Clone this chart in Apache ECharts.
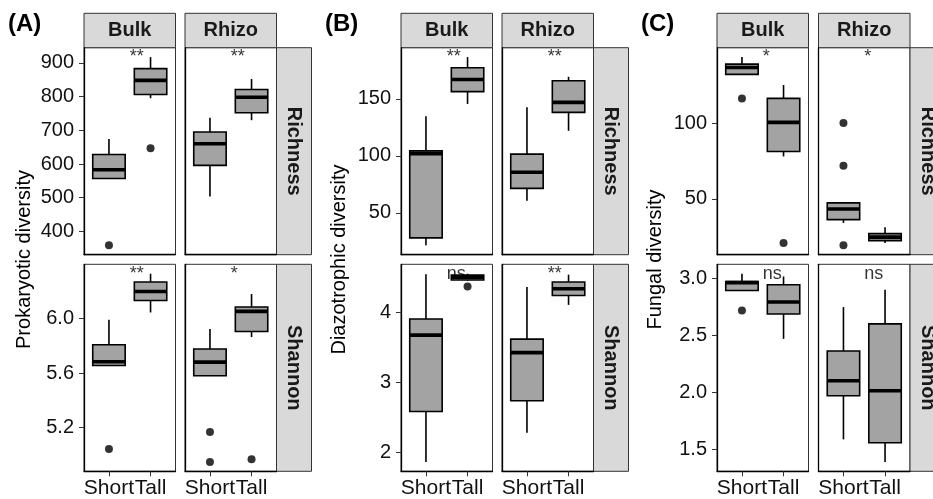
<!DOCTYPE html>
<html><head><meta charset="utf-8">
<script src="https://cdn.jsdelivr.net/npm/echarts@6/dist/echarts.min.js"></script>
<style>html,body{margin:0;padding:0;background:#fff}#c{width:933px;height:499px}</style>
</head><body><div id="c"></div>
<script>
// ---------- data ----------
const groups = ['Short', 'Tall'];
const sites = ['Bulk', 'Rhizo'];
const metrics = ['Richness', 'Shannon'];
const panelLetters = ['(A)', '(B)', '(C)'];
const yTitles = ['Prokaryotic diversity', 'Diazotrophic diversity', 'Fungal diversity'];

// boxes: [lower whisker, Q1, median, Q3, upper whisker] for Short, Tall
const prokRichBulk  = [[557, 557, 583, 628, 674], [795, 806, 848, 883, 917]];
const prokRichRhizo = [[504, 596, 660, 695, 737], [730, 752, 798, 821, 852]];
const prokShanBulk  = [[5.656, 5.656, 5.683, 5.809, 5.993], [6.046, 6.134, 6.2, 6.27, 6.331]];
const prokShanRhizo = [[5.58, 5.58, 5.681, 5.777, 5.924], [5.865, 5.906, 6.054, 6.086, 6.182]];
const diazRichBulk  = [[21.5, 28, 102, 104.4, 134.7], [145.6, 156.4, 167, 177.3, 186.7]];
const diazRichRhizo = [[60.5, 71.5, 85.6, 101.5, 142.6], [122, 138.2, 147, 165.9, 169.4]];
const diazShanBulk  = [[1.865, 2.584, 3.673, 3.904, 4.541], [4.45, 4.46, 4.50, 4.53, 4.55]];
const diazShanRhizo = [[2.282, 2.738, 3.424, 3.616, 4.36], [4.105, 4.239, 4.335, 4.432, 4.537]];
const fungRichBulk  = [[132, 132, 136.6, 138.8, 143.4], [78, 81.3, 100.4, 116.2, 125]];
const fungRichRhizo = [[34.2, 36.4, 43.4, 47.4, 47.4], [21, 22.6, 24.9, 27.2, 31.3]];
const fungShanBulk  = [[2.891, 2.891, 2.96, 2.97, 3.038], [2.468, 2.686, 2.79, 2.941, 3.014]];
const fungShanRhizo = [[1.588, 1.97, 2.101, 2.362, 2.746], [1.391, 1.558, 2.014, 2.599, 2.897]];

// outliers: [group index (0 = Short, 1 = Tall), value]
const prokRichBulkOut  = [[0, 359], [1, 647]];
const prokRichRhizoOut = [];
const prokShanBulkOut  = [[0, 5.041]];
const prokShanRhizoOut = [[0, 5.166], [0, 4.947], [1, 4.967]];
const diazRichBulkOut  = [];
const diazRichRhizoOut = [];
const diazShanBulkOut  = [[1, 4.368]];
const diazShanRhizoOut = [];
const fungRichBulkOut  = [[0, 116.2], [1, 21]];
const fungRichRhizoOut = [[0, 100], [0, 71.9], [0, 19.5]];
const fungShanBulkOut  = [[0, 2.716]];
const fungShanRhizoOut = [];

// significance labels [Bulk, Rhizo] per metric row
const prokSignif = [['**', '**'], ['**', '*']];
const diazSignif = [['**', '**'], ['ns', '**']];
const fungSignif = [['*', '*'], ['ns', 'ns']];

// y tick values
const prokRichTicks = [400, 500, 600, 700, 800, 900];
const prokShanTicks = [5.2, 5.6, 6.0];
const diazRichTicks = [50, 100, 150];
const diazShanTicks = [2, 3, 4];
const fungRichTicks = [50, 100];
const fungShanTicks = [1.5, 2.0, 2.5, 3.0];

// ---------- assembly ----------
const boxes = [
  [[prokRichBulk, prokRichRhizo], [prokShanBulk, prokShanRhizo]],
  [[diazRichBulk, diazRichRhizo], [diazShanBulk, diazShanRhizo]],
  [[fungRichBulk, fungRichRhizo], [fungShanBulk, fungShanRhizo]]
];
const outs = [
  [[prokRichBulkOut, prokRichRhizoOut], [prokShanBulkOut, prokShanRhizoOut]],
  [[diazRichBulkOut, diazRichRhizoOut], [diazShanBulkOut, diazShanRhizoOut]],
  [[fungRichBulkOut, fungRichRhizoOut], [fungShanBulkOut, fungShanRhizoOut]]
];
const signif = [prokSignif, diazSignif, fungSignif];
const ticks = [[prokRichTicks, prokShanTicks], [diazRichTicks, diazShanTicks], [fungRichTicks, fungShanTicks]];
const tickDecimals = [[0, 1], [0, 0], [0, 1]];

// layout
const FONT = "'Liberation Sans', Arial, Helvetica, sans-serif";
const panelX = [[84, 185], [401, 502], [717, 818.5]];
const panelW = 91.5;
const stripW = 35;
const rowY = [47.7, 264.3];
const rowH = 207;
const stripTop = 13.3, stripH = 34.4;
const titleX = [24.5, 339.5, 655.7];

const grids = [], xAxes = [], yAxes = [], series = [], graphics = [];

function rowRange(p, m) {
  let lo = Infinity, hi = -Infinity;
  for (let s = 0; s < 2; s++) {
    boxes[p][m][s].forEach(b => b.forEach(v => { lo = Math.min(lo, v); hi = Math.max(hi, v); }));
    outs[p][m][s].forEach(o => { lo = Math.min(lo, o[1]); hi = Math.max(hi, o[1]); });
  }
  return [lo, hi];
}

function renderBox(params, api) {
  const x = api.value(0);
  const lo = api.coord([x, api.value(1)]);
  const q1 = api.coord([x, api.value(2)]);
  const md = api.coord([x, api.value(3)]);
  const q3 = api.coord([x, api.value(4)]);
  const hi = api.coord([x, api.value(5)]);
  const w = api.size([0.78, 0])[0];
  const cx = lo[0];
  const st = { stroke: '#000', lineWidth: 1.6 };
  return {
    type: 'group', children: [
      { type: 'line', shape: { x1: cx, y1: hi[1], x2: cx, y2: q3[1] }, style: st },
      { type: 'line', shape: { x1: cx, y1: q1[1], x2: cx, y2: lo[1] }, style: st },
      { type: 'rect', shape: { x: cx - w / 2, y: q3[1], width: w, height: q1[1] - q3[1] },
        style: { fill: '#a3a3a3', stroke: '#000', lineWidth: 1.6 } },
      { type: 'line', shape: { x1: cx - w / 2, y1: md[1], x2: cx + w / 2, y2: md[1] },
        style: { stroke: '#000', lineWidth: 3.6 } }
    ]
  };
}

for (let p = 0; p < 3; p++) {
  for (let m = 0; m < 2; m++) {
    const [lo, hi] = rowRange(p, m);
    const pad = (hi - lo) * 0.05;
    for (let s = 0; s < 2; s++) {
      const gi = grids.length;
      grids.push({
        left: panelX[p][s], top: rowY[m], width: panelW, height: rowH,
        show: true, borderColor: '#333', borderWidth: 1, backgroundColor: '#fff'
      });
      const bottomRow = m === 1;
      xAxes.push({
        gridIndex: gi, type: 'value', min: 0.4, max: 2.6,
        axisLine: { show: true, onZero: false, lineStyle: { color: '#000', width: 1.3 } },
        axisTick: { show: bottomRow, customValues: [1, 2], length: 5, lineStyle: { color: '#333', width: 1 } },
        axisLabel: { show: bottomRow, customValues: [1, 2], formatter: v => groups[Math.round(v) - 1],
          fontSize: 21, fontFamily: FONT, color: '#111', margin: 6 },
        splitLine: { show: false }
      });
      const dec = tickDecimals[p][m];
      yAxes.push({
        gridIndex: gi, type: 'value', min: lo - pad, max: hi + pad,
        axisLine: { show: true, onZero: false, lineStyle: { color: '#000', width: 1.3 } },
        axisTick: { show: s === 0, customValues: ticks[p][m], length: 5, lineStyle: { color: '#333', width: 1 } },
        axisLabel: { show: s === 0, customValues: ticks[p][m], formatter: v => v.toFixed(dec),
          fontSize: 20, fontFamily: FONT, color: '#111', margin: 10 },
        splitLine: { show: false }
      });
      series.push({
        type: 'custom', xAxisIndex: gi, yAxisIndex: gi, renderItem: renderBox, clip: false,
        encode: { x: 0, y: [1, 2, 3, 4, 5] },
        data: boxes[p][m][s].map((b, i) => [i + 1].concat(b))
      });
      series.push({
        type: 'scatter', xAxisIndex: gi, yAxisIndex: gi, symbol: 'circle', symbolSize: 8,
        itemStyle: { color: '#000' }, clip: false,
        data: outs[p][m][s].map(o => [o[0] + 1, o[1]])
      });
      series.push({
        type: 'scatter', xAxisIndex: gi, yAxisIndex: gi, symbolSize: 0, z: 5, clip: false,
        data: [[(1 + groups.length) / 2, hi]],
        label: { show: true, position: 'right', distance: 0, formatter: () => signif[p][m][s],
          fontSize: 18, fontFamily: FONT, color: '#000' }
      });
    }
    // right strip
    const sx = panelX[p][1] + panelW;
    graphics.push({ type: 'rect', shape: { x: sx, y: rowY[m], width: stripW, height: rowH },
      style: { fill: '#d9d9d9', stroke: '#333', lineWidth: 1 } });
    graphics.push({ type: 'text', x: sx + stripW / 2, y: rowY[m] + rowH / 2, rotation: -Math.PI / 2,
      style: { text: metrics[m], font: 'bold 20px ' + FONT, fill: '#1a1a1a', textAlign: 'center', textVerticalAlign: 'middle' } });
  }
  for (let s = 0; s < 2; s++) {
    graphics.push({ type: 'rect', shape: { x: panelX[p][s], y: stripTop, width: panelW, height: stripH },
      style: { fill: '#d9d9d9', stroke: '#333', lineWidth: 1 } });
    graphics.push({ type: 'text', x: panelX[p][s] + panelW / 2, y: stripTop + stripH / 2,
      style: { text: sites[s], font: 'bold 20px ' + FONT, fill: '#1a1a1a', textAlign: 'center', textVerticalAlign: 'middle' } });
  }
  graphics.push({ type: 'text', x: panelX[p][0] - 76, y: 24,
    style: { text: panelLetters[p], font: 'bold 24px ' + FONT, fill: '#000', textAlign: 'left', textVerticalAlign: 'middle' } });
  graphics.push({ type: 'text', x: titleX[p], y: (rowY[0] + rowY[1] + rowH) / 2, rotation: Math.PI / 2,
    style: { text: yTitles[p], font: '20px ' + FONT, fill: '#000', textAlign: 'center', textVerticalAlign: 'middle' } });
}

const chart = echarts.init(document.getElementById('c'), null, { renderer: 'canvas' });
chart.setOption({
  animation: false,
  backgroundColor: '#fff',
  grid: grids, xAxis: xAxes, yAxis: yAxes, series: series,
  graphic: { elements: graphics }
});
</script>
</body></html>
